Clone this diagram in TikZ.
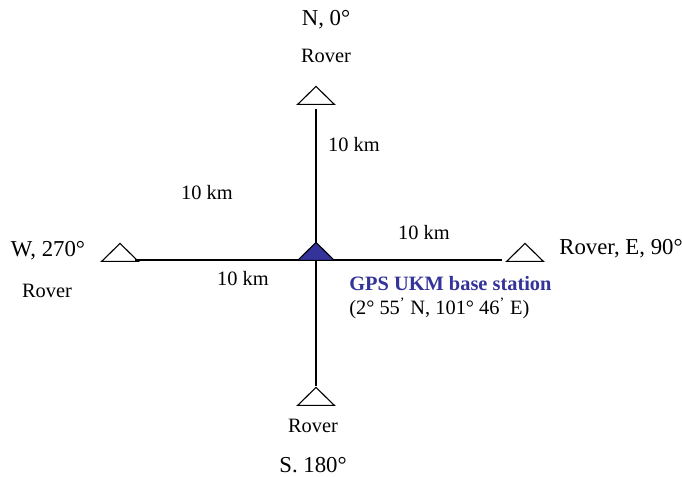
\documentclass[tikz,border=0pt]{standalone}
\usepackage{fontspec}
\setmainfont{Liberation Serif}
\usetikzlibrary{calc,positioning,shapes.geometric}
\definecolor{ukmblue}{RGB}{51,51,153}
\tikzset{
  rover/.style={draw,line width=.8pt,isosceles triangle,isosceles triangle stretches,
    shape border rotate=90,minimum width=.92cm,minimum height=.45cm,inner sep=0pt,anchor=south},
  station/.style={rover,fill=ukmblue},
  wire/.style={line width=1pt},
  lbl/.style={font=\fontsize{14.5}{17}\selectfont,inner sep=0pt,anchor=base},
  dir/.style={font=\fontsize{16.2}{19}\selectfont,inner sep=0pt,anchor=base},
}

\begin{document}
\begin{tikzpicture}[x=.025cm,y=-.025cm]
  \useasboundingbox (0,0) rectangle (682,477);
  \clip (0,0) rectangle (682,477);
  % rovers and base station
  \node[rover] (north) at (316,105) {};
  \node[rover] (south) at (316,406) {};
  \node[rover] (west) at (120,262) {};
  \node[rover] (east) at (525,262) {};
  \draw[wire] ($(west.south)+(15,-2)$) -- ($(east.south)+(-23,-2)$);
  \draw[wire] ($(north.south)+(0,4)$) -- (south.north);
  \node[station] (base) at (316,261) {};
  % labels
  \node[dir] (nlbl) at (326,26) {N, 0°};
  \node[lbl] (nrov) at (326,63) {Rover};
  \node[lbl] (dn) at (354,152) {10 km};
  \node[lbl] (dnw) at (207,200) {10 km};
  \node[lbl] (de) at (424,240) {10 km};
  \node[lbl] (dw) at (243,286) {10 km};
  \node[dir] (wlbl) at (48,257) {W, 270°};
  \node[lbl] (wrov) at (47,298) {Rover};
  \node[dir] (elbl) at (621,255) {Rover, E, 90°};
  \node[lbl] (srov) at (313,432) {Rover};
  \node[dir] (slbl) at (313,472) {S. 180°};
  \node[lbl,anchor=base west,text=ukmblue,font=\fontsize{14.5}{17}\selectfont\bfseries] (gps) at (349,291) {GPS UKM base station};
  \node[lbl,anchor=base west] (pos) at (349,315) {(2° 55\textsuperscript{’} N, 101° 46\textsuperscript{’} E)};
\end{tikzpicture}
\end{document}
